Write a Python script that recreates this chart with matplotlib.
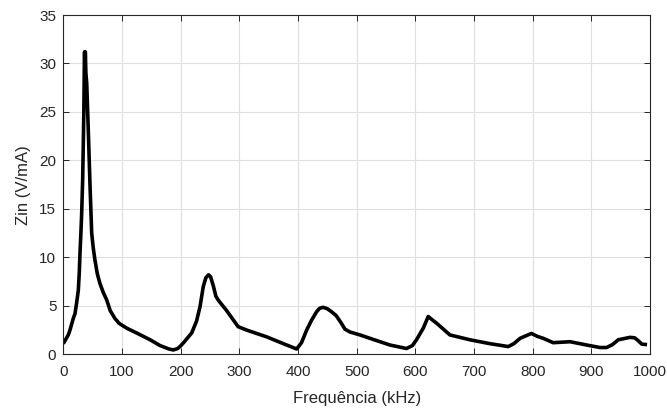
import matplotlib.pyplot as plt

# Frequency (kHz) and input impedance (V/mA)
freq_khz = [0, 8.5, 11.4, 17, 20, 22.7, 25.6, 27.3, 28.5, 30, 31.3, 33, 34, 35,
            35.8, 36.3, 37.0, 37.5, 38.5, 39.9, 42.6, 45.5, 48.4, 51, 54, 58,
            62.5, 68, 74, 80, 88, 95, 108, 125, 148, 165, 180, 187.5, 195,
            198.8, 205, 218.8, 227, 233, 238.6, 243, 247.6, 251, 256, 260, 264,
            278.5, 298, 312.6, 346.7, 375, 397.8, 406, 414.8, 423, 431.8, 437,
            443, 450, 457, 465, 474, 480, 488.6, 505.6, 522.6, 556.7, 585, 595,
            602, 613.6, 622, 628, 636.5, 659, 693, 727, 758.4, 768, 778.6, 790,
            798, 808, 818, 835, 863.7, 892, 914.8, 926, 936, 946, 966, 974, 980,
            986, 995]
zin = [1.1, 2.0, 2.5, 3.7, 4.2, 5.3, 6.6, 8.5, 10.5, 12.5, 14.5, 18, 21.4, 25,
       29.5, 31.2, 28.5, 31.2, 29.0, 28.0, 23.1, 17.5, 12.5, 11.0, 9.7, 8.3,
       7.3, 6.4, 5.6, 4.5, 3.7, 3.2, 2.7, 2.2, 1.5, 0.9, 0.55, 0.45, 0.6,
       0.8, 1.2, 2.2, 3.4, 4.9, 7.0, 7.9, 8.2, 8.0, 7.0, 6.0, 5.6,
       4.5, 2.85, 2.5, 1.8, 1.1, 0.55, 1.2, 2.5, 3.5, 4.4, 4.75,
       4.85, 4.7, 4.4, 4.0, 3.2, 2.6, 2.3, 2.0, 1.65, 0.96, 0.6, 0.9,
       1.5, 2.7, 3.9, 3.6, 3.2, 2.0, 1.5, 1.1, 0.8, 1.1, 1.65, 1.95,
       2.15, 1.85, 1.65, 1.2, 1.3, 0.96, 0.7, 0.7, 1.0, 1.5, 1.75, 1.7, 1.4,
       1.05, 1.0]

plt.rcParams['font.family'] = ['Liberation Sans', 'DejaVu Sans']
ink = '#262626'

fig = plt.figure(figsize=(6.67, 4.09), dpi=100)
ax = fig.add_axes([0.0949, 0.1337, 0.8796, 0.8296])
ax.plot(freq_khz, zin, color='black', linewidth=2.6,
        solid_joinstyle='round', solid_capstyle='butt')

ax.set_xlim(0, 1000)
ax.set_ylim(0, 35)
ax.set_xticks(range(0, 1001, 100))
ax.set_yticks(range(0, 36, 5))
ax.grid(True, color='#dfdfdf', linewidth=0.8)
ax.set_axisbelow(True)
ax.tick_params(direction='in', top=True, right=True, length=4, width=0.7,
               colors=ink, labelsize=11)
ax.tick_params(axis='x', pad=8)
ax.tick_params(axis='y', pad=5)
for s in ax.spines.values():
    s.set_color(ink)
    s.set_linewidth(0.8)
ax.set_xlabel('Frequência (kHz)', fontsize=12, color=ink, labelpad=8)
ax.set_ylabel('Zin (V/mA)', fontsize=12, color=ink, labelpad=6)

fig.savefig('out.png', dpi=100)
